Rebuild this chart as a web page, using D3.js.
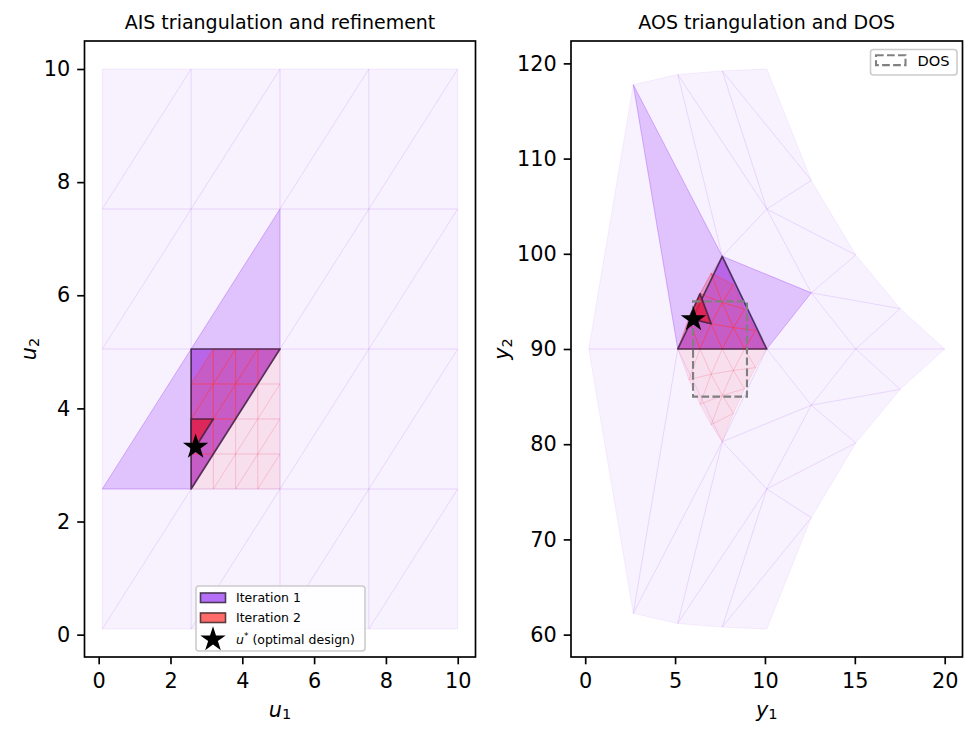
<!DOCTYPE html>
<html><head><meta charset="utf-8">
<script src="https://cdn.jsdelivr.net/npm/d3@7"></script>
<style>body{margin:0;background:#fff} text{font-family:"DejaVu Sans",sans-serif}</style>
</head><body><svg id="c" width="977" height="737"></svg>
<script>
// ---------------- data ----------------
// AIS coarse grid coordinates (same for u1 and u2)
const uGrid = [0.1, 2.575, 5.05, 7.525, 10];
// AOS images of coarse grid vertices, indexed [i = u1 index][j = u2 index]
const aosY1 = [
  [0.2, 2.675, 5.15, 7.625, 10.1],
  [2.675, 5.15, 7.625, 10.1, 12.575],
  [5.15, 7.625, 10.1, 12.575, 15.05],
  [7.625, 10.1, 12.575, 15.05, 17.525],
  [10.1, 12.575, 15.05, 17.525, 20.0]
];
const aosY2 = [
  [90.0, 117.76, 118.83, 119.21, 119.41],
  [62.24, 90.0, 99.74, 104.70, 107.71],
  [61.17, 80.26, 90.0, 95.90, 99.87],
  [60.79, 75.30, 84.10, 90.0, 94.24],
  [60.59, 72.29, 80.13, 85.76, 90.0]
];
// refinement grid of the iteration-1 cell
const refGrid = [2.575, 3.194, 3.8125, 4.431, 5.05];
const refY1 = [
  [5.15, 5.769, 6.388, 7.006, 7.625],
  [5.769, 6.388, 7.006, 7.625, 8.244],
  [6.388, 7.006, 7.625, 8.244, 8.863],
  [7.006, 7.625, 8.244, 8.863, 9.481],
  [7.625, 8.244, 8.863, 9.481, 10.1]
];
const refY2 = [
  [90.0, 93.22, 95.81, 97.95, 99.74],
  [86.78, 90.0, 92.65, 94.87, 96.76],
  [84.19, 87.35, 90.0, 92.25, 94.19],
  [82.05, 85.13, 87.75, 90.0, 91.96],
  [80.26, 83.24, 85.81, 88.04, 90.0]
];
// triangles: [cell i, cell j, half]
const iter1Tri = [1, 1, "upper"];
const iter1Neighbors = [[0, 1, "lower"], [1, 2, "lower"]];
const refinedFeasible = [[0,0,"upper"],[0,1,"lower"],[0,1,"upper"],[0,2,"lower"],[0,2,"upper"],[0,3,"lower"],
  [1,1,"upper"],[1,2,"lower"],[1,2,"upper"],[1,3,"lower"],[1,3,"upper"],[2,2,"upper"],[2,3,"lower"],[2,3,"upper"],[3,3,"upper"]];
const iter2Tri = [0, 1, "upper"];
const uStar = [2.70, 3.32];
const yStar = [6.02, 93.1];
const dosY1 = [6, 9];
const dosY2 = [85, 95];
const ticksU1 = [0, 2, 4, 6, 8, 10];
const ticksU2 = [0, 2, 4, 6, 8, 10];
const ticksY1 = [0, 5, 10, 15, 20];
const ticksY2 = [60, 70, 80, 90, 100, 110, 120];
const titles = ["AIS triangulation and refinement", "AOS triangulation and DOS"];
const legendLabels = ["Iteration 1", "Iteration 2", "(optimal design)", "DOS"];

// ---------------- styles ----------------
const PURPLE = "#a855f7", RED = "#f43f5e", CRIMSON = "#e11d48", DARK = "#35203f";
const TICK_FS = 20.8, TITLE_FS = 19, STAR = 200;

const svg = d3.select("#c");
const frames = [
  {x0: 84.5, x1: 475.5, y0: 41, y1: 657},
  {x0: 571, x1: 962.5, y0: 41, y1: 657}
];
function padded(ext) { const r = ext[1] - ext[0]; return [ext[0] - 0.05 * r, ext[1] + 0.05 * r]; }

function triVerts(t) {
  const [i, j, h] = t;
  return h === "lower" ? [[i, j], [i + 1, j], [i + 1, j + 1]] : [[i, j], [i + 1, j + 1], [i, j + 1]];
}
function allTris(n) {
  const out = [];
  for (let i = 0; i < n - 1; i++) for (let j = 0; j < n - 1; j++) { out.push([i, j, "lower"]); out.push([i, j, "upper"]); }
  return out;
}
const same = (a, b) => a[0] === b[0] && a[1] === b[1] && a[2] === b[2];

function drawPanel(k, xs, ys, cx, cy, rx, ry, star, xticks, yticks, xlab, ylab) {
  const F = frames[k];
  const g = svg.append("g");
  const line = d3.line();
  const pathC = t => line(triVerts(t).map(([i, j]) => [xs(cx(i, j)), ys(cy(i, j))])) + "Z";
  const pathR = t => line(triVerts(t).map(([i, j]) => [xs(rx(i, j)), ys(ry(i, j))])) + "Z";

  // base triangulation
  g.append("g").selectAll("path").data(allTris(uGrid.length)).join("path")
    .attr("d", pathC).attr("fill", PURPLE).attr("fill-opacity", 0.08)
    .attr("stroke", PURPLE).attr("stroke-opacity", 0.11).attr("stroke-width", 0.8);
  // neighbours
  g.append("g").selectAll("path").data(iter1Neighbors).join("path")
    .attr("d", pathC).attr("fill", PURPLE).attr("fill-opacity", 0.3)
    .attr("stroke", PURPLE).attr("stroke-opacity", 0.35).attr("stroke-width", 0.8);
  // iteration 1 fill
  g.append("path").attr("d", pathC(iter1Tri)).attr("fill", PURPLE).attr("fill-opacity", 0.87);
  // refined triangles
  const refAll = allTris(refGrid.length);
  const pale = refAll.filter(t => !refinedFeasible.some(f => same(f, t)));
  g.append("g").selectAll("path").data(pale).join("path")
    .attr("d", pathR).attr("fill", RED).attr("fill-opacity", 0.1)
    .attr("stroke", RED).attr("stroke-opacity", 0.16).attr("stroke-width", 0.7);
  g.append("g").selectAll("path").data(refinedFeasible).join("path")
    .attr("d", pathR).attr("fill", RED).attr("fill-opacity", 0.32)
    .attr("stroke", RED).attr("stroke-opacity", 0.6).attr("stroke-width", 0.8);
  // iteration 1 outline
  g.append("path").attr("d", pathC(iter1Tri)).attr("fill", "none")
    .attr("stroke", DARK).attr("stroke-opacity", 0.8).attr("stroke-width", 1.7).attr("stroke-linejoin", "round");
  // iteration 2
  g.append("path").attr("d", pathR(iter2Tri)).attr("fill", CRIMSON).attr("fill-opacity", 0.85)
    .attr("stroke", DARK).attr("stroke-opacity", 0.8).attr("stroke-width", 1.7).attr("stroke-linejoin", "round");

  if (k === 1) {
    g.append("rect").attr("x", xs(dosY1[0])).attr("y", ys(dosY2[1]))
      .attr("width", xs(dosY1[1]) - xs(dosY1[0])).attr("height", ys(dosY2[0]) - ys(dosY2[1]))
      .attr("fill", "none").attr("stroke", "#808080").attr("stroke-width", 2.1).attr("stroke-dasharray", "7.7,3.3");
  }
  // star
  g.append("path").attr("d", d3.symbol(d3.symbolStar, STAR)())
    .attr("transform", `translate(${xs(star[0])},${ys(star[1])})`).attr("fill", "#000");

  // frame
  svg.append("rect").attr("x", F.x0).attr("y", F.y0).attr("width", F.x1 - F.x0).attr("height", F.y1 - F.y0)
    .attr("fill", "none").attr("stroke", "#000").attr("stroke-width", 1.67);
  // axes
  const ax = svg.append("g").attr("transform", `translate(0,${F.y1})`)
    .call(d3.axisBottom(xs).tickValues(xticks).tickFormat(d3.format("d")).tickSize(7.3).tickPadding(8.5));
  const ay = svg.append("g").attr("transform", `translate(${F.x0},0)`)
    .call(d3.axisLeft(ys).tickValues(yticks).tickFormat(d3.format("d")).tickSize(7.3).tickPadding(7));
  [ax, ay].forEach(a => {
    a.select(".domain").remove();
    a.selectAll("line").attr("stroke", "#000").attr("stroke-width", 1.67);
    a.selectAll("text").attr("font-size", TICK_FS).attr("font-family", "DejaVu Sans").attr("fill", "#000");
  });
  // title
  svg.append("text").attr("x", (F.x0 + F.x1) / 2).attr("y", 28.5).attr("text-anchor", "middle")
    .attr("font-size", TITLE_FS).text(titles[k]);
  // x label
  const xl = svg.append("text").attr("x", (F.x0 + F.x1) / 2).attr("y", 716.5).attr("text-anchor", "middle").attr("font-size", TICK_FS);
  xl.append("tspan").attr("font-style", "italic").text(xlab[0]);
  xl.append("tspan").attr("font-size", 14.6).attr("dy", 2.5).text(xlab[1]);
  // y label
  const yx = k === 0 ? 36 : 509;
  const yl = svg.append("text").attr("transform", `translate(${yx},${(F.y0 + F.y1) / 2}) rotate(-90)`)
    .attr("text-anchor", "middle").attr("font-size", TICK_FS);
  yl.append("tspan").attr("font-style", "italic").text(ylab[0]);
  yl.append("tspan").attr("font-size", 14.6).attr("dy", 2.5).text(ylab[1]);
}

// left panel
const xsL = d3.scaleLinear().domain(padded(d3.extent(uGrid))).range([frames[0].x0, frames[0].x1]);
const ysL = d3.scaleLinear().domain(padded(d3.extent(uGrid))).range([frames[0].y1, frames[0].y0]);
drawPanel(0, xsL, ysL, (i, j) => uGrid[i], (i, j) => uGrid[j], (i, j) => refGrid[i], (i, j) => refGrid[j],
  uStar, ticksU1, ticksU2, ["u", "1"], ["u", "2"]);
// right panel
const xsR = d3.scaleLinear().domain(padded(d3.extent(aosY1.flat()))).range([frames[1].x0, frames[1].x1]);
const ysR = d3.scaleLinear().domain(padded(d3.extent(aosY2.flat()))).range([frames[1].y1, frames[1].y0]);
drawPanel(1, xsR, ysR, (i, j) => aosY1[i][j], (i, j) => aosY2[i][j], (i, j) => refY1[i][j], (i, j) => refY2[i][j],
  yStar, ticksY1, ticksY2, ["y", "1"], ["y", "2"]);

// left legend
const lg = svg.append("g");
lg.append("rect").attr("x", 196).attr("y", 586).attr("width", 169).attr("height", 65).attr("rx", 3)
  .attr("fill", "#fff").attr("fill-opacity", 0.8).attr("stroke", "#cccccc").attr("stroke-width", 1.6);
lg.append("rect").attr("x", 200.5).attr("y", 593).attr("width", 25).attr("height", 9.5)
  .attr("fill", PURPLE).attr("fill-opacity", 0.85).attr("stroke", "#4a3a55").attr("stroke-width", 1.6);
lg.append("rect").attr("x", 200.5).attr("y", 613).attr("width", 25).attr("height", 9.5)
  .attr("fill", "#ff6b6b").attr("stroke", "#5a3a3a").attr("stroke-width", 1.6);
lg.append("path").attr("d", d3.symbol(d3.symbolStar, STAR)()).attr("transform", "translate(213,639.5)").attr("fill", "#000");
lg.append("text").attr("x", 236).attr("y", 602).attr("font-size", 12.5).text(legendLabels[0]);
lg.append("text").attr("x", 236).attr("y", 622).attr("font-size", 12.5).text(legendLabels[1]);
const st = lg.append("text").attr("x", 236).attr("y", 644).attr("font-size", 12.5);
st.append("tspan").attr("font-style", "italic").text("u");
st.append("tspan").attr("font-size", 9).attr("dy", -5).text("*");
st.append("tspan").attr("dy", 5).text(" " + legendLabels[2]);

// right legend
const rg = svg.append("g");
rg.append("rect").attr("x", 870.5).attr("y", 49.5).attr("width", 86.5).attr("height", 25.5).attr("rx", 3)
  .attr("fill", "#fff").attr("fill-opacity", 0.8).attr("stroke", "#cccccc").attr("stroke-width", 1.6);
rg.append("rect").attr("x", 876).attr("y", 55.3).attr("width", 29.5).attr("height", 9.8)
  .attr("fill", "none").attr("stroke", "#808080").attr("stroke-width", 2.1).attr("stroke-dasharray", "7.7,3.3");
rg.append("text").attr("x", 917.5).attr("y", 66).attr("font-size", 14.6).text(legendLabels[3]);
</script></body></html>
